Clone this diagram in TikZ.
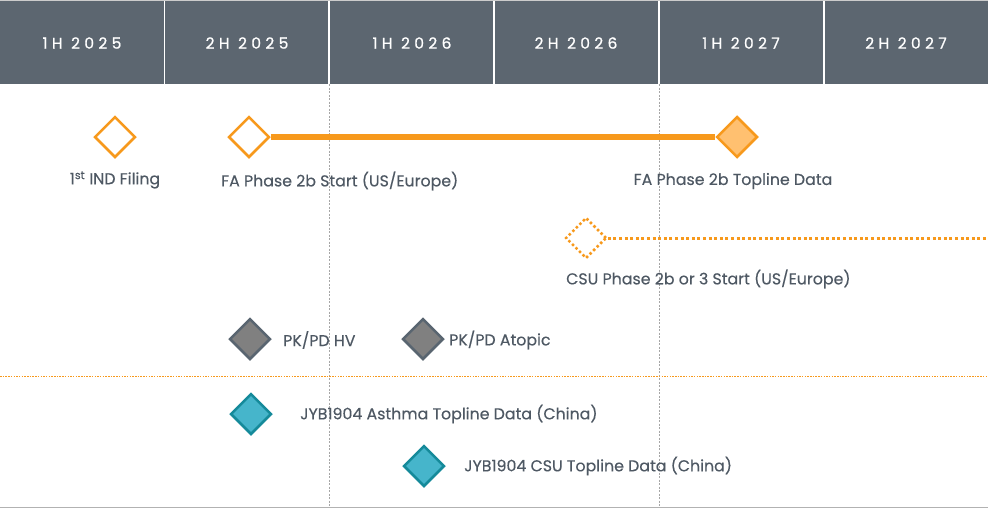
\documentclass[tikz,border=0pt]{standalone}
\usepackage{fontspec}
\usetikzlibrary{shapes.geometric}
\setmainfont{Poppins}
\definecolor{hdr}{HTML}{5C6670}
\definecolor{txt}{HTML}{4E5863}
\definecolor{org}{HTML}{F7991C}
\definecolor{orgfill}{HTML}{FFC070}
\definecolor{gfill}{HTML}{808080}
\definecolor{gline}{HTML}{596570}
\definecolor{tfill}{HTML}{46B5CB}
\definecolor{tline}{HTML}{158A9A}
\tikzset{
  hdrlabel/.style={text=white,font=\fontsize{15.5}{18}\selectfont\addfontfeature{LetterSpace=28,FakeBold=0.8}},
  lbl/.style={text=txt,font=\fontsize{15.8}{18}\selectfont\addfontfeature{FakeBold=0.3},inner sep=0pt},
  dia/.style={draw,line width=2.5pt,minimum size=41pt,inner sep=0pt,shape=diamond,aspect=1},
  odia/.style={dia,draw=org,fill=white},
  fdia/.style={dia,draw=org,fill=orgfill},
  ddia/.style={dia,draw=org,fill=white,line width=2.5pt,dash pattern=on 2.5pt off 2.5pt},
  gdia/.style={dia,draw=gline,fill=gfill},
  tdia/.style={dia,draw=tline,fill=tfill},
}
\begin{document}
\begin{tikzpicture}[x=1pt,y=-1pt]
\useasboundingbox (0,0) rectangle (988,509);
\fill[hdr] (0,1) rectangle (988,84);
\draw[gray!40,line width=0.8pt] (0,0.5) -- (988,0.5);
\foreach \x in {164.5,329,494,659,824} \draw[white,line width=1.5pt] (\x,1) -- (\x,84);
\foreach \x/\t in {82/1H 2025,247/2H 2025,412/1H 2026,576/2H 2026,741/1H 2027,906/2H 2027}
  \node[hdrlabel] (h\x) at (\x,43) {\t};
% vertical dashed lines
\coordinate (v1t) at (329,84); \coordinate (v1b) at (329,507);
\coordinate (v2t) at (659,84); \coordinate (v2b) at (659,507);
\draw[gray!70,line width=0.6pt,dash pattern=on 2pt off 1.5pt] (v1t) -- (v1b);
\draw[gray!70,line width=0.6pt,dash pattern=on 2pt off 1.5pt] (v2t) -- (v2b);
% bottom line
\draw[gray!60,line width=1pt] (0,507.5) -- (988,507.5);
% separator
\coordinate (sepL) at (0,376); \coordinate (sepR) at (988,376);
\draw[org,line width=0.8pt,dash pattern=on 1.5pt off 1.2pt] (sepL) -- (sepR);
% FA row
\node[odia] (ind) at (115,137) {};
\node[odia] (fas) at (249,137) {};
\node[fdia] (fat) at (737,137) {};
\draw[org,line width=5.5pt] (fas.east) -- (fat.west);
\node[lbl] (indl) at (115,180) {1\textsuperscript{st} IND Filing};
\node[lbl,anchor=west] (fasl) at (221,181) {FA Phase 2b Start (US/Europe)};
\node[lbl] (fatl) at (733,181) {FA Phase 2b Topline Data};
% CSU row
\node[ddia] (csu) at (586,238) {};
\coordinate (csuend) at (988,238);
\draw[org,line width=3pt,dash pattern=on 3pt off 2.6pt] (csu.east) -- (csuend);
\node[lbl,anchor=west] (csul) at (566,279) {CSU Phase 2b or 3 Start (US/Europe)};
% PK/PD
\node[gdia] (hv) at (250,339) {};
\node[gdia] (at) at (423,339) {};
\node[lbl,anchor=west] (hvl) at (283,340) {PK/PD HV};
\node[lbl,anchor=west] (atl) at (449,340) {PK/PD Atopic};
% JYB1904
\node[tdia] (ja) at (251,414) {};
\node[tdia] (jc) at (424,466) {};
\node[lbl,anchor=west] (jal) at (300,414) {JYB1904 Asthma Topline Data (China)};
\node[lbl,anchor=west] (jcl) at (464,466) {JYB1904 CSU Topline Data (China)};
\end{tikzpicture}
\end{document}
